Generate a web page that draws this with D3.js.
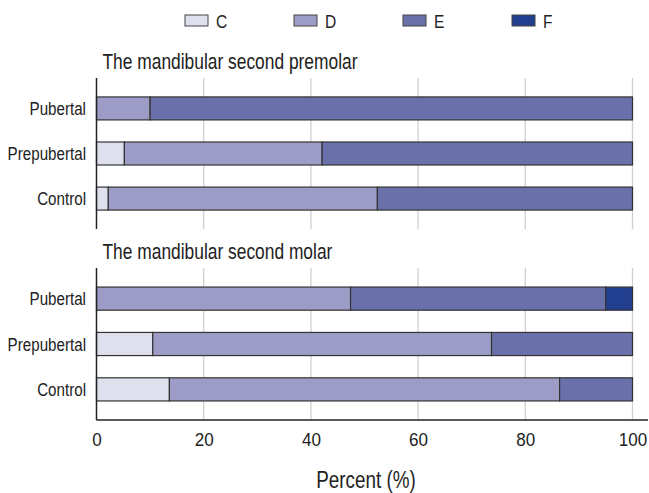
<!DOCTYPE html>
<html>
<head>
<meta charset="utf-8">
<script src="https://cdn.jsdelivr.net/npm/d3@7"></script>
<style>
  body { margin: 0; background: #fff; }
  svg { display: block; font-family: "Liberation Sans", Arial, sans-serif; }
</style>
</head>
<body>
<svg id="chart" width="649" height="493"></svg>
<script>
// stages of maturation (legend order)
const stages = ["C", "D", "E", "F"];
const stageColors = ["#dfe0ee", "#9d9cc7", "#6a70aa", "#233f8f"];
const groups = ["Pubertal", "Prepubertal", "Control"];
const xTicks = [0, 20, 40, 60, 80, 100];

// percent per stage, one row per group
const premolarValues = [
    [0, 10.0, 90.0, 0],
    [5.2, 36.9, 57.9, 0],
    [2.2, 50.2, 47.6, 0]
];
const molarValues = [
    [0, 47.4, 47.6, 5.0],
    [10.5, 63.2, 26.3, 0],
    [13.6, 72.8, 13.6, 0]
];
const panelTitles = ["The mandibular second premolar", "The mandibular second molar"];

const narrow = 0.82; // squeeze Liberation Sans to look like a condensed face
const svg = d3.select("#chart");
const x = d3.scaleLinear().domain([0, 100]).range([96.5, 632.5]);
const color = d3.scaleOrdinal().domain(stages).range(stageColors);

function label(parent, tx, ty, size, anchor, txt, sx = narrow) {
    return parent.append("text")
        .attr("transform", `translate(${tx},${ty}) scale(${sx},1)`)
        .attr("text-anchor", anchor)
        .attr("font-size", size).attr("fill", "#222").text(txt);
}

// legend
const legend = svg.append("g");
stages.forEach((s, i) => {
    const g = legend.append("g").attr("transform", `translate(${185 + i * 109},15)`);
    g.append("rect").attr("width", 23).attr("height", 11)
        .attr("fill", color(s)).attr("stroke", "#444").attr("stroke-width", 1);
    label(g, 31, 12.5, 19, "start", s);
});

function drawPanel(values, title, top, bottom, isLast) {
    const y = d3.scaleBand().domain(groups).range([top, bottom])
        .paddingInner(0.49).paddingOuter(0.42);
    const g = svg.append("g");

    label(g, 102.5, top - 9, 21.2, "start", title);

    // gridlines
    g.append("g").selectAll("line").data(xTicks.slice(1)).join("line")
        .attr("x1", d => x(d)).attr("x2", d => x(d))
        .attr("y1", top).attr("y2", bottom)
        .attr("stroke", "#d0d0d0").attr("stroke-width", 1.3);

    // stacked bars
    groups.forEach((grp, gi) => {
        let acc = 0;
        values[gi].forEach((v, si) => {
            if (v > 0) {
                g.append("rect")
                    .attr("x", x(acc)).attr("y", y(grp))
                    .attr("width", x(acc + v) - x(acc)).attr("height", y.bandwidth())
                    .attr("fill", color(stages[si]))
                    .attr("stroke", "#333").attr("stroke-width", 1.2);
            }
            acc += v;
        });
    });

    // y labels
    groups.forEach(grp => {
        label(g, 86, y(grp) + y.bandwidth() / 2 + 6.5, 18.5, "end", grp);
    });

    // left axis line
    g.append("line").attr("x1", x(0)).attr("x2", x(0))
        .attr("y1", top).attr("y2", bottom)
        .attr("stroke", "#222").attr("stroke-width", 1.5);

    if (isLast) {
        const axis = g.append("g").attr("transform", `translate(0,${bottom})`)
            .call(d3.axisBottom(x).tickValues(xTicks).tickSize(0).tickPadding(13));
        axis.select(".domain").remove();
        axis.selectAll("text").attr("font-size", 18).attr("fill", "#222")
            .attr("font-family", "Liberation Sans, Arial, sans-serif")
            .attr("transform", "scale(0.95,1)");
        g.append("line").attr("x1", x(0)).attr("x2", 648)
            .attr("y1", bottom).attr("y2", bottom)
            .attr("stroke", "#222").attr("stroke-width", 1.5);
        label(g, 366, 488, 23, "middle", "Percent (%)");
    }
}

drawPanel(premolarValues, panelTitles[0], 78, 229, false);
drawPanel(molarValues, panelTitles[1], 268, 420, true);
</script>
</body>
</html>
